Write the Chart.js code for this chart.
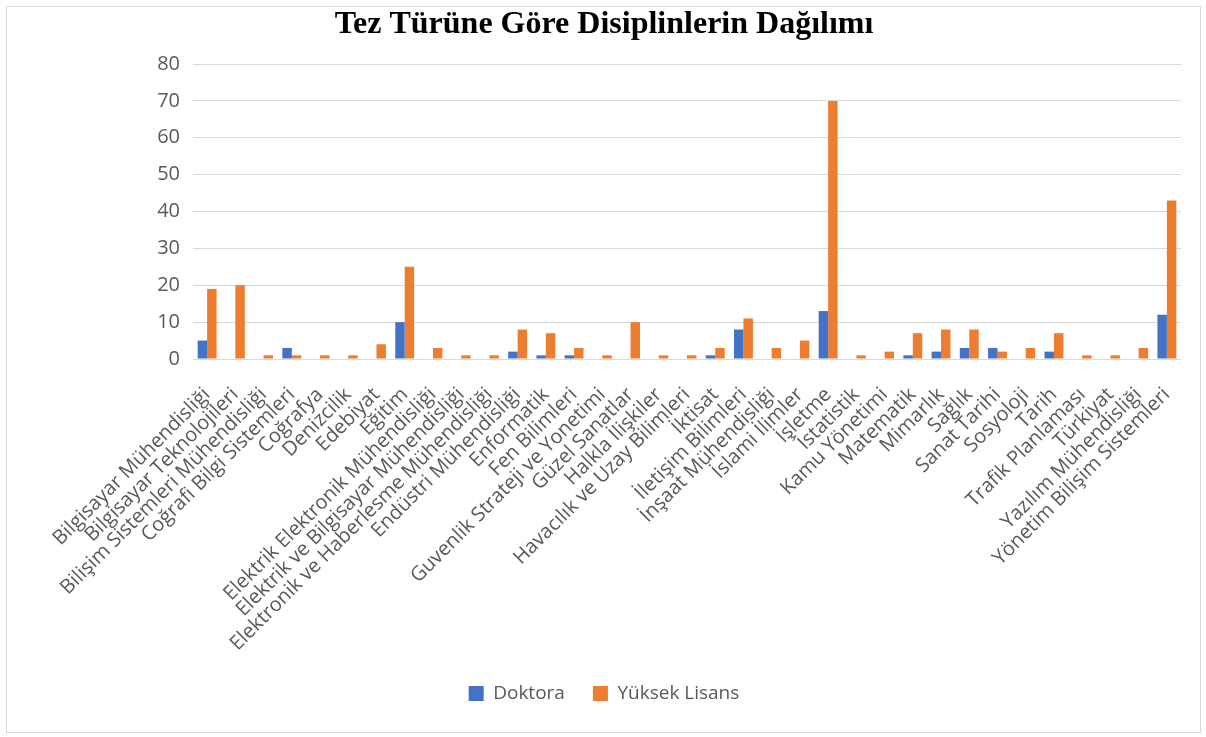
<!DOCTYPE html>
<html>
<head>
<meta charset="utf-8">
<script src="https://cdn.jsdelivr.net/npm/chart.js@4"></script>
<style>
  body { margin: 0; background: #fff; }
  #wrap { position: absolute; left: 6px; top: 6px; width: 1193px; height: 725px; border: 1px solid #d9d9d9; }
</style>
</head>
<body>
<div id="wrap"><canvas id="tezChart"></canvas></div>
<script>
// Disiplinler
const disiplinler = [
    'Bilgisayar Mühendisliği', 'Bilgisayar Teknolojileri', 'Bilişim Sistemleri Mühendisliği',
    'Coğrafi Bilgi Sistemleri', 'Coğrafya', 'Denizcilik', 'Edebiyat', 'Eğitim',
    'Elektrik Elektronik Mühendisliği', 'Elektrik ve Bilgisayar Mühendisliği',
    'Elektronik ve Haberlesme Mühendisliği', 'Endüstri Mühendisliği', 'Enformatik',
    'Fen Bilimleri', 'Guvenlik Strateji ve Yonetimi', 'Güzel Sanatlar', 'Halkla İlişkiler',
    'Havacılık ve Uzay Bilimleri', 'İktisat', 'İletişim Bilimleri', 'İnşaat Mühendisliği',
    'İslami İlimler', 'İşletme', 'İstatistik', 'Kamu Yönetimi', 'Matematik', 'Mimarlık',
    'Sağlık', 'Sanat Tarihi', 'Sosyoloji', 'Tarih', 'Trafik Planlaması', 'Türkiyat',
    'Yazılım Mühendisliği', 'Yönetim Bilişim Sistemleri'
];

const doktora = [5, 0, 0, 3, 0, 0, 0, 10, 0, 0, 0, 2, 1, 1, 0, 0, 0, 0, 1, 8, 0, 0, 13, 0, 0, 1, 2, 3, 3, 0, 2, 0, 0, 0, 12];
const yuksekLisans = [19, 20, 1, 1, 1, 1, 4, 25, 3, 1, 1, 8, 7, 3, 1, 10, 1, 1, 3, 11, 3, 5, 70, 1, 2, 7, 8, 8, 2, 3, 7, 1, 1, 3, 43];

const yMax = 80;
const yStep = 10;

const ctx = document.getElementById('tezChart');
new Chart(ctx, {
    type: 'bar',
    data: {
        labels: disiplinler,
        datasets: [
            { label: 'Doktora', data: doktora, backgroundColor: '#4472c4' },
            { label: 'Yüksek Lisans', data: yuksekLisans, backgroundColor: '#ed7d31' }
        ]
    },
    options: {
        responsive: true,
        maintainAspectRatio: false,
        animation: false,
        layout: { padding: { left: 12, right: 11, top: 0, bottom: 19 } },
        datasets: { bar: { categoryPercentage: 0.67, barPercentage: 1.0 } },
        plugins: {
            title: {
                display: true,
                text: 'Tez Türüne Göre Disiplinlerin Dağılımı',
                color: '#000',
                font: { family: 'Liberation Serif', size: 32, weight: 'bold', lineHeight: 1 },
                padding: { top: 2, bottom: 23 }
            },
            legend: {
                position: 'bottom',
                labels: {
                    color: '#595959',
                    font: { family: 'Open Sans', size: 19 },
                    boxWidth: 15, boxHeight: 15, padding: 28
                }
            },
            tooltip: { enabled: false }
        },
        scales: {
            x: {
                grid: { display: false },
                border: { color: '#d9d9d9' },
                afterFit: function (scale) { scale.height = 297; },
                ticks: {
                    color: '#595959',
                    font: { family: 'Open Sans', size: 20 },
                    minRotation: 45, maxRotation: 45,
                    autoSkip: false, padding: 16
                }
            },
            y: {
                min: 0, max: yMax,
                border: { display: false },
                grid: { color: '#d9d9d9', drawTicks: false },
                afterFit: function (scale) { scale.width = 174; },
                ticks: {
                    stepSize: yStep,
                    color: '#595959',
                    font: { family: 'Open Sans', size: 20 },
                    padding: 13
                }
            }
        }
    }
});
</script>
</body>
</html>
